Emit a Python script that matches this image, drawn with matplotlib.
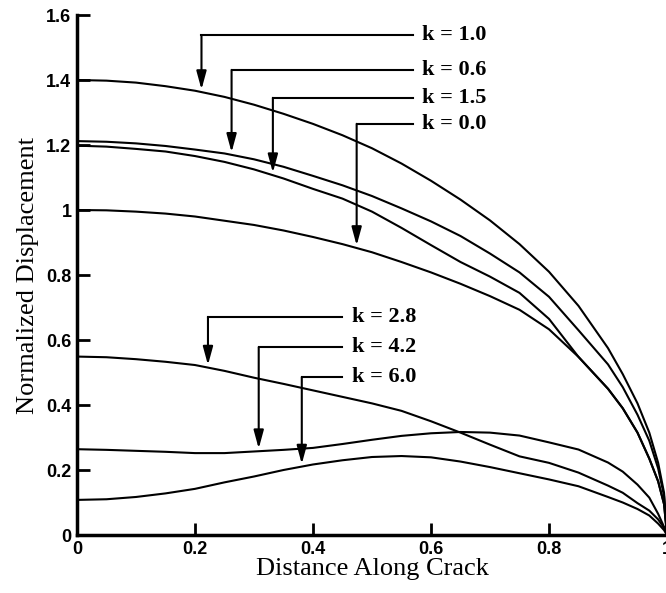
import numpy as np
import matplotlib
matplotlib.use("Agg")
import matplotlib.pyplot as plt
from matplotlib.ticker import FuncFormatter

# crack opening profiles, one per k value
x_pts = [0.0, 0.05, 0.1, 0.15, 0.2, 0.25, 0.3, 0.35, 0.4, 0.45, 0.5, 0.55, 0.6,
         0.65, 0.7, 0.75, 0.8, 0.85, 0.9, 0.925, 0.95, 0.97, 0.985, 0.995, 1.0]

k_10 = [1.400, 1.398, 1.392, 1.381, 1.367, 1.348, 1.324, 1.296, 1.265, 1.230, 1.190, 1.143, 1.090,
        1.032, 0.968, 0.895, 0.810, 0.705, 0.575, 0.495, 0.405, 0.315, 0.222, 0.130, 0.0]
k_06 = [1.212, 1.210, 1.205, 1.197, 1.186, 1.174, 1.156, 1.133, 1.105, 1.076, 1.043, 1.005, 0.965,
        0.920, 0.866, 0.808, 0.733, 0.630, 0.525, 0.455, 0.370, 0.290, 0.205, 0.120, 0.0]
k_15 = [1.198, 1.195, 1.188, 1.180, 1.166, 1.148, 1.125, 1.097, 1.065, 1.035, 0.995, 0.945, 0.892,
        0.840, 0.795, 0.745, 0.665, 0.548, 0.450, 0.390, 0.315, 0.235, 0.165, 0.095, 0.0]
k_00 = [1.000, 0.999, 0.995, 0.989, 0.980, 0.967, 0.954, 0.937, 0.917, 0.895, 0.870, 0.840, 0.808,
        0.773, 0.735, 0.693, 0.633, 0.548, 0.450, 0.390, 0.315, 0.235, 0.165, 0.095, 0.0]
k_28 = [0.549, 0.547, 0.541, 0.533, 0.523, 0.505, 0.484, 0.465, 0.445, 0.425, 0.405, 0.382, 0.350,
        0.315, 0.278, 0.242, 0.222, 0.192, 0.152, 0.130, 0.098, 0.075, 0.048, 0.022, 0.0]
k_42 = [0.264, 0.262, 0.259, 0.256, 0.252, 0.252, 0.257, 0.262, 0.268, 0.280, 0.293, 0.305, 0.313,
        0.317, 0.315, 0.306, 0.285, 0.263, 0.223, 0.195, 0.155, 0.115, 0.065, 0.025, 0.0]
k_60 = [0.108, 0.110, 0.117, 0.128, 0.142, 0.162, 0.180, 0.200, 0.217, 0.230, 0.240, 0.243, 0.239,
        0.226, 0.209, 0.190, 0.171, 0.150, 0.117, 0.100, 0.080, 0.060, 0.035, 0.015, 0.0]

curves = [k_10, k_06, k_15, k_00, k_28, k_42, k_60]
labels = ["k = 1.0", "k = 0.6", "k = 1.5", "k = 0.0", "k = 2.8", "k = 4.2", "k = 6.0"]
# where each leader arrow drops onto its curve, and the height of its label
arrow_x = [0.211, 0.262, 0.332, 0.474, 0.222, 0.308, 0.381]
label_y = [1.538, 1.431, 1.345, 1.265, 0.671, 0.578, 0.486]
text_x = [0.585, 0.585, 0.585, 0.585, 0.466, 0.466, 0.466]

fig = plt.figure(figsize=(6.66, 5.93), dpi=100)
ax = fig.add_axes([0.1156, 0.0978, 0.8859, 0.8769])

for ys in curves:
    ax.plot(x_pts, ys, color="black", lw=1.5, solid_joinstyle="round")

for ys, lab, ax_x, ly, tx in zip(curves, labels, arrow_x, label_y, text_x):
    tip = np.interp(ax_x, x_pts, ys)
    ax.plot([ax_x, tx - 0.016], [ly, ly], color="black", lw=1.5)
    ax.annotate("", xy=(ax_x, tip + 0.008), xytext=(ax_x, ly),
                arrowprops=dict(arrowstyle="-|>,head_length=0.55,head_width=0.15",
                                mutation_scale=20, color="black", lw=1.5,
                                shrinkA=0, shrinkB=0))
    ax.text(tx, ly, lab, va="center", ha="left", fontsize=16, fontweight="bold",
            family="Liberation Serif")

ax.set_xlim(0, 1)
ax.set_ylim(0, 1.6)
ax.set_xticks([0, 0.2, 0.4, 0.6, 0.8, 1.0])
ax.set_yticks([0, 0.2, 0.4, 0.6, 0.8, 1.0, 1.2, 1.4, 1.6])
fmt = FuncFormatter(lambda v, p: "%g" % v)
ax.xaxis.set_major_formatter(fmt)
ax.yaxis.set_major_formatter(fmt)

for side in ["top", "right"]:
    ax.spines[side].set_visible(False)
for side in ["left", "bottom"]:
    ax.spines[side].set_linewidth(2.5)
ax.tick_params(direction="in", length=9, width=2, pad=4)
for t in ax.get_xticklabels() + ax.get_yticklabels():
    t.set_family("Liberation Sans")
    t.set_fontweight("bold")
    t.set_fontsize(13)

ax.set_xlabel("Distance Along Crack", family="Liberation Serif", fontsize=19, labelpad=0)
ax.set_ylabel("Normalized Displacement", family="Liberation Serif", fontsize=19, labelpad=5)

fig.savefig("out.png", dpi=100)
